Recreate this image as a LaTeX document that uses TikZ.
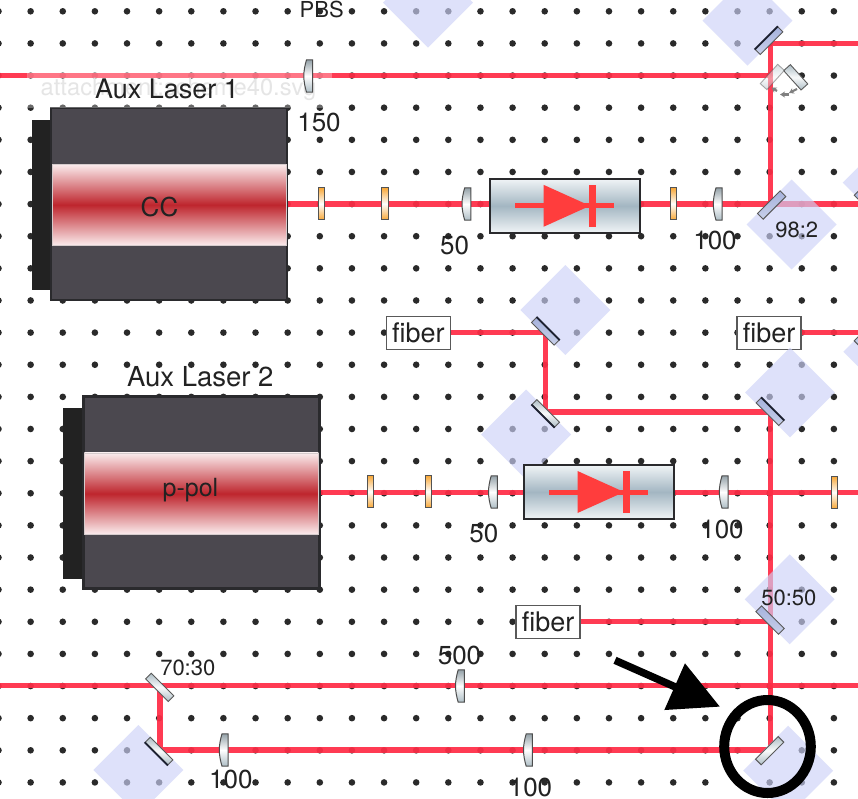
\documentclass[tikz,border=0pt]{standalone}
\usepackage{fontspec}
\setmainfont{TeX Gyre Heros}
\usetikzlibrary{arrows.meta,shapes.geometric}
\definecolor{beamred}{HTML}{FF2D46}
\definecolor{inkc}{HTML}{222222}
\definecolor{dotc}{HTML}{2A2A2A}
\definecolor{diamc}{HTML}{CDD2F8}
\definecolor{bodyc}{HTML}{4B484F}
\definecolor{edgec}{HTML}{2A2A2D}
\definecolor{redc}{HTML}{BE252D}
\definecolor{pinkc}{HTML}{FBEDEE}
\definecolor{diodec}{HTML}{FF3D3D}
\definecolor{isoc}{HTML}{A3B6C2}
\definecolor{isoe}{HTML}{F0F4F6}
\definecolor{orangec}{HTML}{F8A838}
\definecolor{blumir}{HTML}{A6B2DC}
\definecolor{blumirl}{HTML}{C8D0EA}
\definecolor{silc}{HTML}{AEBEC6}
\definecolor{darkm}{HTML}{1C2030}
\tikzset{
  beam/.style={draw=beamred,line width=5.3pt,draw opacity=.93,line join=miter},
  diam/.style={fill=diamc,fill opacity=.65,draw=none,minimum size=63.6pt,inner sep=0pt,rotate=45,shape=rectangle},
  mir/.style={shape=rectangle,minimum width=32pt,minimum height=7pt,inner sep=0pt,draw=gray!70!black,line width=.9pt},
  bluemir/.style={mir,top color=blumir,bottom color=blumirl},
  silmir/.style={mir,top color=silc,bottom color=silc,middle color=white!92!silc},
  darkedge/.style={draw=darkm,line width=1.8pt},
  wave/.style={shape=rectangle,minimum width=6.2pt,minimum height=32pt,inner sep=0pt,draw=gray!65!black,line width=1pt,
    top color=orangec,bottom color=orangec,middle color=white},
  lensbody/.style={draw=gray!60!black,line width=1pt,top color=silc!85!black,bottom color=silc,middle color=white},
  pics/lensp/.style={code={
    \path[lensbody] (4.4,-16.2) -- (-1.8,-16.2) .. controls (-3.4,-11) and (-4.5,-5) .. (-4.5,0)
      .. controls (-4.5,5) and (-3.4,11) .. (-1.8,16.2) -- (4.4,16.2) -- cycle;}},
  isobox/.style={shape=rectangle,minimum width=150pt,minimum height=54pt,inner sep=0pt,draw=edgec,line width=2pt,
    top color=isoe,bottom color=isoe,middle color=isoc},
  dioline/.style={draw=diodec,line width=5pt},
  diofill/.style={fill=diodec,draw=none},
  laserbody/.style={shape=rectangle,minimum width=236pt,minimum height=192pt,inner sep=0pt,fill=bodyc,draw=edgec,line width=2.6pt},
  laserback/.style={shape=rectangle,minimum width=20pt,inner sep=0pt,fill=inkc,draw=none},
  laserband/.style={shape=rectangle,minimum width=234pt,minimum height=81.5pt,inner sep=0pt,
    top color=pinkc,bottom color=pinkc,middle color=redc,draw=pinkc!70!gray,line width=.5pt,text=inkc},
  fiberbox/.style={shape=rectangle,minimum width=64pt,minimum height=33pt,inner sep=0pt,draw=gray!70!black,line width=1.3pt,fill=white,
    font=\fontsize{27}{30}\selectfont,text=inkc},
  lab/.style={anchor=base,inner sep=0pt,text=inkc,font=\fontsize{26}{30}\selectfont},
  labs/.style={anchor=base,inner sep=0pt,text=inkc,font=\fontsize{22}{26}\selectfont}
}
\newcommand{\isolator}[2]{%
  \node[isobox] (#1) at (#2) {};
  \draw[dioline] ([xshift=-49.5pt]#1.center) -- ([xshift=49pt]#1.center);
  \path[diofill] ([xshift=-21pt,yshift=21pt]#1.center) -- ([xshift=-21pt,yshift=-21pt]#1.center) -- ([xshift=25.5pt]#1.center) -- cycle;
  \path[diofill] ([xshift=24.5pt,yshift=21pt]#1.center) rectangle ([xshift=31.5pt,yshift=-21pt]#1.center);
}
\begin{document}
\begin{tikzpicture}[x=1pt,y=-1pt]
\useasboundingbox (0,0) rectangle (858,798);
\clip (0,0) rectangle (858,798);
\fill[white] (0,0) rectangle (858,798);
% dot grid
\foreach \k in {0,...,27}{\foreach \j in {0,...,24}{
  \fill[dotc] ({-1.5+32.13*\k},{11.3+32.13*\j}) circle[radius=3.3];}}
% free ends and corners of the beams
\coordinate (a1) at (0,75.5);
\coordinate (a2) at (770.3,75.5);
\coordinate (b1) at (858,43.3);
\coordinate (b2) at (770.3,43.3);
\coordinate (b3) at (770.3,204);
\coordinate (c2) at (858,204);
\coordinate (d2) at (545.3,332.8);
\coordinate (d3) at (545.3,412);
\coordinate (d4) at (770.3,412);
\coordinate (d5) at (770.3,750);
\coordinate (e2) at (858,332.8);
\coordinate (f2) at (858,492.6);
\coordinate (g2) at (770.3,621.7);
\coordinate (h1) at (0,685.8);
\coordinate (h2) at (858,685.8);
\coordinate (i1) at (160,685.8);
\coordinate (i2) at (160,750);
% lasers
\node[laserback,minimum height=170pt,minimum width=20pt] (back1) at (41.5,205) {};
\node[laserbody] (laser1) at (168.8,204) {};
\node[laserband] (band1) at (169,204.8) {};
\node[laserback,minimum height=171pt,minimum width=20pt] (back2) at (73,493.6) {};
\node[laserbody] (laser2) at (201.3,492.6) {};
\node[laserband] (band2) at (201.3,493.6) {};
% fibre launchers
\node[fiberbox] (fib1) at (418.3,332.8) {fiber};
\node[fiberbox] (fib2) at (769,332.8) {fiber};
\node[fiberbox] (fib3) at (548,621.7) {fiber};
% beams
\draw[beam] (a1) -- (a2);
\draw[beam] (b1) -- (b2) -- (b3);
\draw[beam] (laser1.east) -- (c2);
\draw[beam] (fib1.east) -- (d2) -- (d3) -- (d4) -- (d5);
\draw[beam] (fib2.east) -- (e2);
\draw[beam] (laser2.east) -- (f2);
\draw[beam] (fib3.east) -- (g2);
\draw[beam] (h1) -- (h2);
\draw[beam] (i1) -- (i2) -- (d5);
% watermark
\node[shape=rectangle,minimum width=305pt,minimum height=36pt,inner sep=0pt,fill=white,fill opacity=.3] (wmbox) at (179.5,90) {};
\node[anchor=base,inner sep=0pt,text=black!10,font=\fontsize{23.7}{26}\selectfont] (wm) at (178.5,95) {attachment:scheme40.svg};
% mirror mounts
\node[diam] (q1) at (428,2.7) {};
\node[diam] (q2) at (747.5,20.7) {};
\node[diam] (q3) at (791.7,224.5) {};
\node[diam] (q4) at (887.7,182.7) {};
\node[diam] (q5) at (565.3,310) {};
\node[diam] (q6) at (526.2,434.5) {};
\node[diam] (q7) at (790,392.5) {};
\node[diam] (q8) at (888.3,351.7) {};
\node[diam] (q9) at (789.7,599.3) {};
\node[diam] (q10) at (788.2,770.7) {};
\node[diam] (q11) at (138.3,770) {};
% flip mirror
\node[silmir,rotate=-48,minimum width=26pt,minimum height=9pt] (flip2) at (795.7,77.3) {};
\node[silmir,rotate=48,minimum width=26pt,minimum height=9pt,opacity=.5] (flip1) at (772.3,77) {};
\coordinate (fa1) at (777,91); \coordinate (fa2) at (771.5,87.5);
\coordinate (fa3) at (789,94.5); \coordinate (fa4) at (780,94.5);
\coordinate (fa5) at (797,89); \coordinate (fa6) at (789,93);
\draw[gray,line width=2.2pt,-{Stealth[length=5pt,width=6pt]}] (fa1) -- (fa2);
\draw[gray,line width=2.2pt,-{Stealth[length=5pt,width=6pt]}] (fa3) -- (fa4);
\draw[gray,line width=2.2pt,-{Stealth[length=5pt,width=6pt]}] (fa5) -- (fa6);
% mirrors
\node[bluemir,rotate=45] (m1) at (769,40.7) {};
\draw[darkedge] (m1.north west) -- (m1.north east);
\node[bluemir,rotate=45,minimum height=8pt] (m2) at (771.7,205) {};
\node[bluemir,rotate=-45] (m3) at (868,204) {};
\node[bluemir,rotate=-45] (m4) at (545.3,331.3) {};
\draw[darkedge] (m4.north west) -- (m4.north east);
\node[silmir,rotate=-45] (m5) at (545.7,413.3) {};
\draw[darkedge] (m5.south west) -- (m5.south east);
\node[bluemir,rotate=-45] (m6) at (770,411.7) {};
\draw[darkedge] (m6.north west) -- (m6.north east);
\node[bluemir,rotate=45] (m7) at (868,332) {};
\node[bluemir,rotate=-45,minimum height=8pt] (m8) at (770,620) {};
\node[silmir,rotate=45,minimum height=8pt] (m9) at (769.7,750.7) {};
\node[silmir,rotate=-45,minimum height=8pt] (m10) at (159.7,687.3) {};
\node[silmir,rotate=-45] (m11) at (159,751) {};
\draw[darkedge] (m11.south west) -- (m11.south east);
% lenses
\path (308.3,76) pic {lensp};
\path (466.5,204) pic {lensp};
\path (717.8,204) pic {lensp};
\path (493,492) pic {lensp};
\path (723.8,492) pic {lensp};
\path (460,686) pic {lensp};
\path (223.8,750) pic {lensp};
\path (528,750) pic {lensp};
% wave plates
\node[wave] (w1) at (321.3,203.8) {};
\node[wave] (w2) at (385,203.8) {};
\node[wave] (w3) at (673.6,203.8) {};
\node[wave] (w4) at (370.3,491.6) {};
\node[wave] (w5) at (428.3,491.6) {};
\node[wave] (w6) at (834.5,492.4) {};
% isolators
\isolator{iso1}{564.5,205.8}
\isolator{iso2}{598.5,492}
% labels
\node[labs] (tPBS) at (321.7,17) {PBS};
\node[lab] (t150) at (319,131) {150};
\node[lab,font=\fontsize{27}{30}\selectfont] (tA1) at (167,98) {Aux Laser 1};
\node[lab] (tCC) at (159.5,216) {CC};
\node[lab] (t50a) at (454.5,254) {50};
\node[lab] (t100a) at (715,249) {100};
\node[labs] (t982) at (796.7,237) {98:2};
\node[lab,font=\fontsize{27.5}{30}\selectfont] (tA2) at (200.3,386.7) {Aux Laser 2};
\node[labs,font=\fontsize{25}{28}\selectfont] (tpp) at (190.5,496) {p-pol};
\node[lab] (t50b) at (483.8,542) {50};
\node[lab] (t100b) at (722,538) {100};
\node[labs] (t5050) at (788.8,605) {50:50};
\node[labs] (t7030) at (187.8,675) {70:30};
\node[lab] (t500) at (459.5,664) {500};
\node[lab] (t100c) at (230.8,788) {100};
\node[lab] (t100d) at (530.5,796) {100};
% pointer and ring
\coordinate (p1) at (615,660.3);
\coordinate (p2) at (720,706.7);
\draw[black,line width=7.5pt,-{Triangle[length=49.6pt,width=49pt]}] (p1) -- (p2);
\node[shape=ellipse,draw=black,line width=10pt,minimum width=86.6pt,minimum height=93pt,inner sep=0pt] (ring) at (767.5,746.5) {};
\end{tikzpicture}
\end{document}
